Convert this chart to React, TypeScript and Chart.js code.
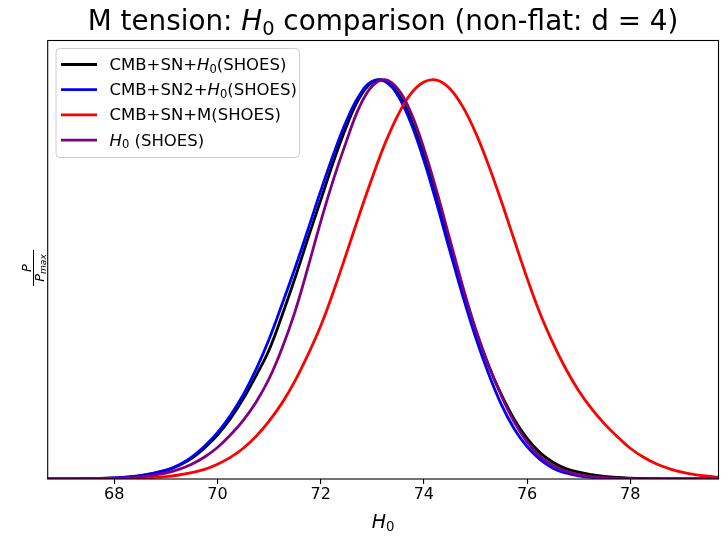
import { useEffect, useRef } from "react"
import { Chart, registerables } from "chart.js"

Chart.register(...registerables)

const H0_GRID = [
  66.7, 67, 67.5, 68, 68.5, 69, 69.25, 69.5, 69.75, 70, 70.25, 70.5, 70.75, 71, 71.25,
  71.5, 71.75, 72, 72.25, 72.5, 72.75, 73, 73.25, 73.5, 73.75, 74, 74.25, 74.5, 74.75,
  75, 75.25, 75.5, 75.75, 76, 76.25, 76.5, 76.75, 77, 77.25, 77.5, 77.75, 78, 78.25, 78.5,
  78.75, 79, 79.25, 79.5, 79.7,
]

const CMB_SN_H0 = [
  0.0001, 0.0002, 0.0008, 0.0026, 0.0077, 0.021, 0.034, 0.052, 0.078, 0.11, 0.151, 0.201,
  0.259, 0.323, 0.409, 0.502, 0.601, 0.698, 0.795, 0.883, 0.954, 0.993, 0.997, 0.965, 0.901,
  0.811, 0.704, 0.59, 0.476, 0.373, 0.285, 0.212, 0.15, 0.102, 0.066, 0.042, 0.026, 0.017,
  0.011, 0.0065, 0.0038, 0.0022, 0.0012, 0.0006, 0.0003, 0, 0, 0, 0,
]

const CMB_SN2_H0 = [
  0.0001, 0.0002, 0.0008, 0.0027, 0.0082, 0.022, 0.035, 0.055, 0.082, 0.116, 0.159, 0.211,
  0.275, 0.35, 0.437, 0.527, 0.623, 0.721, 0.814, 0.897, 0.961, 0.996, 0.995, 0.959, 0.891,
  0.798, 0.689, 0.573, 0.46, 0.356, 0.265, 0.187, 0.126, 0.081, 0.049, 0.027, 0.015, 0.008,
  0.0043, 0.0022, 0.001, 0.0005, 0.0002, 0, 0, 0, 0, 0, 0,
]

const CMB_SN_M = [
  0, 0.0001, 0.0002, 0.0007, 0.0022, 0.0062, 0.01, 0.016, 0.024, 0.037, 0.054, 0.077, 0.107,
  0.145, 0.19, 0.245, 0.31, 0.383, 0.47, 0.565, 0.662, 0.755, 0.841, 0.912, 0.965, 0.994,
  0.999, 0.978, 0.933, 0.868, 0.787, 0.696, 0.599, 0.503, 0.415, 0.341, 0.276, 0.221, 0.176,
  0.138, 0.106, 0.077, 0.055, 0.038, 0.026, 0.017, 0.011, 0.007, 0.0047,
]

const H0_SHOES = [
  0, 0.0001, 0.0005, 0.0017, 0.0053, 0.015, 0.024, 0.037, 0.055, 0.079, 0.11, 0.147, 0.193,
  0.251, 0.327, 0.418, 0.528, 0.644, 0.751, 0.846, 0.931, 0.984, 1.0, 0.976, 0.917, 0.828,
  0.72, 0.602, 0.484, 0.377, 0.287, 0.209, 0.143, 0.093, 0.057, 0.034, 0.02, 0.011, 0.006,
  0.0031, 0.0016, 0.0007, 0.0003, 0, 0, 0, 0, 0, 0,
]

const SERIES = [CMB_SN_H0, CMB_SN2_H0, CMB_SN_M, H0_SHOES]
const SERIES_NAMES = ["CMB+SN+H0(SHOES)", "CMB+SN2+H0(SHOES)", "CMB+SN+M(SHOES)", "H0 (SHOES)"]
const SERIES_COLORS = ["#000000", "#0000ff", "#ff0000", "#800080"]

const X_TICKS = [68, 70, 72, 74, 76, 78]
const X_MIN = 66.71
const X_MAX = 79.71
const Y_MAX = 1.098

type Part = { t: string; it?: boolean; sub?: boolean }

const TITLE: Part[] = [
  { t: "M tension: " },
  { t: "H", it: true },
  { t: "0", sub: true },
  { t: " comparison (non-flat: d = 4)" },
]
const X_LABEL: Part[] = [{ t: "H", it: true }, { t: "0", sub: true }]
const LEGEND_LABELS: Part[][] = [
  [{ t: "CMB+SN+" }, { t: "H", it: true }, { t: "0", sub: true }, { t: "(SHOES)" }],
  [{ t: "CMB+SN2+" }, { t: "H", it: true }, { t: "0", sub: true }, { t: "(SHOES)" }],
  [{ t: "CMB+SN+M(SHOES)" }],
  [{ t: "H", it: true }, { t: "0", sub: true }, { t: " (SHOES)" }],
]

const FONT = '"DejaVu Sans", "Liberation Sans", sans-serif'

function partFont(p: Part, size: number) {
  const s = p.sub ? size * 0.7 : size
  return `${p.it ? "italic " : ""}${s}px ${FONT}`
}

function richWidth(ctx: CanvasRenderingContext2D, parts: Part[], size: number) {
  let w = 0
  for (const p of parts) {
    ctx.font = partFont(p, size)
    w += ctx.measureText(p.t).width
  }
  return w
}

function drawRich(
  ctx: CanvasRenderingContext2D,
  parts: Part[],
  x: number,
  y: number,
  size: number,
  align: "left" | "center"
) {
  let cx = align === "center" ? x - richWidth(ctx, parts, size) / 2 : x
  ctx.textAlign = "left"
  ctx.textBaseline = "alphabetic"
  for (const p of parts) {
    ctx.font = partFont(p, size)
    ctx.fillText(p.t, cx, p.sub ? y + size * 0.17 : y)
    cx += ctx.measureText(p.t).width
  }
}

const decorPlugin = {
  id: "decor",
  afterDatasetsDraw(chart: Chart) {
    const ctx = chart.ctx
    const area = chart.chartArea
    const midX = (area.left + area.right) / 2
    ctx.save()

    // frame
    ctx.strokeStyle = "#000"
    ctx.lineWidth = 1.1
    ctx.strokeRect(area.left, area.top, area.right - area.left, area.bottom - area.top)

    ctx.fillStyle = "#000"
    drawRich(ctx, TITLE, midX, 30, 27.8, "center")
    drawRich(ctx, X_LABEL, midX, 528, 19, "center")

    // y label: P / P_max, rotated
    ctx.save()
    ctx.translate(33.5, 268)
    ctx.rotate(-Math.PI / 2)
    ctx.lineWidth = 1
    ctx.beginPath()
    ctx.moveTo(-18, 0)
    ctx.lineTo(18, 0)
    ctx.stroke()
    drawRich(ctx, [{ t: "P", it: true }], 0, -2.5, 13, "center")
    const den: Part[] = [{ t: "P", it: true }, { t: "max", it: true, sub: true }]
    drawRich(ctx, den, 0, 10.5, 13, "center")
    ctx.restore()

    // legend
    const bx = 56
    const by = 48.5
    const bw = 243.5
    const bh = 109
    ctx.beginPath()
    ctx.roundRect(bx, by, bw, bh, 4)
    ctx.fillStyle = "rgba(255,255,255,0.8)"
    ctx.fill()
    ctx.strokeStyle = "#cccccc"
    ctx.lineWidth = 1
    ctx.stroke()
    LEGEND_LABELS.forEach((parts, i) => {
      const ry = 64.5 + i * 25.2
      ctx.strokeStyle = SERIES_COLORS[i]
      ctx.lineWidth = 2.8
      ctx.beginPath()
      ctx.moveTo(61, ry)
      ctx.lineTo(97, ry)
      ctx.stroke()
      ctx.fillStyle = "#000"
      drawRich(ctx, parts, 109.5, ry + 5.5, 16.5, "left")
    })
    ctx.restore()
  },
}

export default function App() {
  const chartRef = useRef<HTMLCanvasElement>(null)
  const chartInstance = useRef<Chart | null>(null)

  useEffect(() => {
    if (!chartRef.current) return
    if (chartInstance.current) chartInstance.current.destroy()

    const datasets = SERIES.map((vals, i) => ({
      label: SERIES_NAMES[i],
      data: H0_GRID.map((x, j) => ({ x, y: vals[j] })),
      borderColor: SERIES_COLORS[i],
      backgroundColor: SERIES_COLORS[i],
      borderWidth: 2.8,
      pointRadius: 0,
      tension: 0.4,
      fill: false,
      // later series are drawn on top, like matplotlib
      order: SERIES.length - i,
    }))

    chartInstance.current = new Chart(chartRef.current, {
      type: "line",
      data: { datasets },
      plugins: [decorPlugin],
      options: {
        animation: false,
        responsive: false,
        layout: { padding: { left: 47.7, right: 9.5, top: 40.5, bottom: 0 } },
        plugins: {
          legend: { display: false },
          title: { display: false },
          tooltip: { enabled: false },
        },
        scales: {
          x: {
            type: "linear",
            min: X_MIN,
            max: X_MAX,
            afterBuildTicks: (scale: any) => {
              scale.ticks = X_TICKS.map((value) => ({ value }))
            },
            afterFit: (scale: any) => {
              scale.height = 64
            },
            ticks: {
              color: "#000",
              padding: 1,
              maxRotation: 0,
              font: { family: FONT, size: 16 },
            },
            grid: {
              display: true,
              drawOnChartArea: false,
              drawTicks: true,
              tickLength: 5,
              color: "#000",
              lineWidth: 1.1,
            },
            border: { display: false },
          },
          y: {
            display: false,
            min: 0,
            max: Y_MAX,
          },
        },
      },
    })

    return () => {
      if (chartInstance.current) {
        chartInstance.current.destroy()
        chartInstance.current = null
      }
    }
  }, [])

  return (
    <div style={{ position: "fixed", left: 0, top: 0, width: 728, height: 543, background: "#fff" }}>
      <canvas ref={chartRef} width={728} height={543} />
    </div>
  )
}
